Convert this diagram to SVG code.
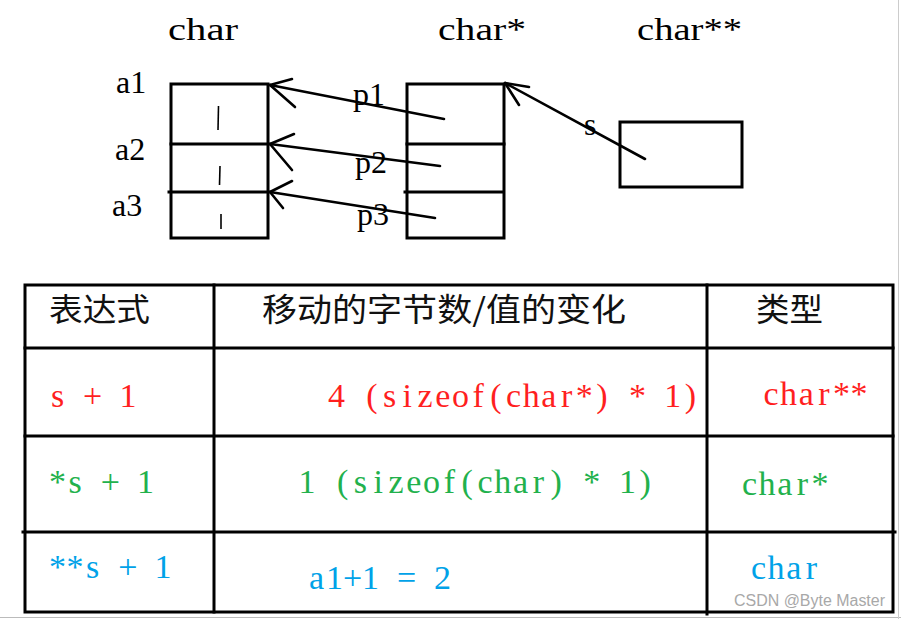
<svg xmlns="http://www.w3.org/2000/svg" width="901" height="619" viewBox="0 0 901 619">
<style>
.ln{stroke:#000;stroke-width:3;fill:none;stroke-linecap:square}
.ar{stroke:#000;stroke-width:2.6;fill:none;stroke-linecap:round}
.lab{font-family:"Liberation Serif","Times New Roman",serif;font-size:32px;fill:#000}
.cj{font-family:"Noto Sans CJK SC","Noto Sans",sans-serif;font-size:32px;fill:#111}
.tx{font-family:"Liberation Serif","Times New Roman",serif;font-size:34px;text-anchor:middle}
.r{fill:#ff1f1f}.g{fill:#22b14c}.b{fill:#00a2e8}
.tick{stroke:#000;stroke-width:1.6}
</style>
<rect width="901" height="619" fill="#fff"/>
<line x1="0" y1="617.5" x2="901" y2="617.5" stroke="#bbb" stroke-width="1"/>
<line x1="898.5" y1="0" x2="898.5" y2="619" stroke="#ccc" stroke-width="1"/>

<g id="headers">
<text class="lab" x="168" y="40" textLength="70" lengthAdjust="spacingAndGlyphs">char</text>
<text class="lab" x="438" y="40" textLength="88" lengthAdjust="spacingAndGlyphs">char*</text>
<text class="lab" x="637" y="40" textLength="105" lengthAdjust="spacingAndGlyphs">char**</text>
</g>

<g id="node-char-array">
<rect class="ln" x="171" y="84" width="97" height="154"/>
<line class="ln" x1="171" y1="144" x2="268" y2="144"/>
<line class="ln" x1="169" y1="192" x2="268" y2="192"/>
<line class="tick" x1="218.5" y1="106" x2="218" y2="130"/>
<line class="tick" x1="220" y1="166" x2="219.5" y2="185"/>
<line class="tick" x1="221" y1="214" x2="221" y2="229"/>
<text class="lab" x="116" y="93">a1</text>
<text class="lab" x="115" y="160">a2</text>
<text class="lab" x="112" y="216">a3</text>
</g>

<g id="node-charptr-array">
<rect class="ln" x="407" y="84" width="97" height="154"/>
<line class="ln" x1="407" y1="144" x2="504" y2="144"/>
<line class="ln" x1="405" y1="192" x2="502" y2="192"/>
</g>

<g id="node-s">
<rect class="ln" x="620" y="122" width="122" height="65"/>
</g>

<g id="connectors">
<line class="ar" x1="444" y1="119" x2="270" y2="85"/>
<line class="ar" x1="270" y1="85" x2="292" y2="79"/>
<line class="ar" x1="270" y1="85" x2="295" y2="107"/>
<line class="ar" x1="440" y1="166" x2="270" y2="144"/>
<line class="ar" x1="270" y1="144" x2="294" y2="134"/>
<line class="ar" x1="270" y1="144" x2="292" y2="170"/>
<line class="ar" x1="435" y1="218" x2="270" y2="192"/>
<line class="ar" x1="270" y1="192" x2="292" y2="181"/>
<line class="ar" x1="270" y1="192" x2="283" y2="208"/>
<line class="ar" x1="645" y1="159" x2="505" y2="83"/>
<line class="ar" x1="505" y1="83" x2="529" y2="87"/>
<line class="ar" x1="505" y1="83" x2="519" y2="105"/>
</g>

<g id="connector-labels">
<text class="lab" x="353" y="105">p1</text>
<text class="lab" x="355" y="173">p2</text>
<text class="lab" x="357" y="225">p3</text>
<text class="lab" x="584" y="135">s</text>
</g>

<g id="table">
<rect class="ln" x="25" y="285" width="868" height="327"/>
<line class="ln" x1="25" y1="348" x2="893" y2="348"/>
<line class="ln" x1="25" y1="436" x2="893" y2="436"/>
<line class="ln" x1="23" y1="532" x2="895" y2="532"/>
<line class="ln" x1="214" y1="285" x2="214" y2="612"/>
<line class="ln" x1="707" y1="285" x2="707" y2="614"/>
</g>

<g id="table-header">
<text class="cj" x="49" y="321" textLength="101" lengthAdjust="spacingAndGlyphs">表达式</text>
<text class="cj" x="262" y="321" textLength="364" lengthAdjust="spacingAndGlyphs">移动的字节数/值的变化</text>
<text class="cj" x="756" y="321" textLength="67" lengthAdjust="spacingAndGlyphs">类型</text>
</g>

<g id="row-s">
<text class="tx r" x="57.5 75.1 92.7 110.3 127.9" y="407">s + 1</text>
<text class="tx r" x="336.5 354.2 371.9 389.6 407.3 425 442.7 460.4 478.1 495.8 513.5 531.2 548.9 566.6 584.3 602 619.7 637.4 655.1 672.8 690.5" y="407">4 (sizeof(char*) * 1)</text>
<text class="tx r" x="771 788.6 806.2 823.8 841.4 859" y="405">char**</text>
</g>

<g id="row-star-s">
<text class="tx g" x="57.5 75.1 92.7 110.3 127.9 145.5" y="493">*s + 1</text>
<text class="tx g" x="307 324.8 342.6 360.4 378.2 396 413.8 431.6 449.4 467.2 485 502.8 520.6 538.4 556.2 574 591.8 609.6 627.4 645.2" y="493">1 (sizeof(char) * 1)</text>
<text class="tx g" x="749.5 767.1 784.7 802.3 819.9" y="495">char*</text>
</g>

<g id="row-star-star-s">
<text class="tx b" x="57.5 75.1 92.7 110.3 127.9 145.5 163.1" y="578">**s + 1</text>
<text class="tx b" x="316.5 334.5 352.5 370.5 388.5 406.5 424.5 442.5" y="589">a1+1 = 2</text>
<text class="tx b" x="758.5 776.1 793.7 811.3" y="579">char</text>
</g>

<text x="734" y="606" font-family="Liberation Sans,Arial,sans-serif" font-size="16" fill="#a8a8a8" textLength="151" lengthAdjust="spacingAndGlyphs">CSDN @Byte Master</text>
</svg>
